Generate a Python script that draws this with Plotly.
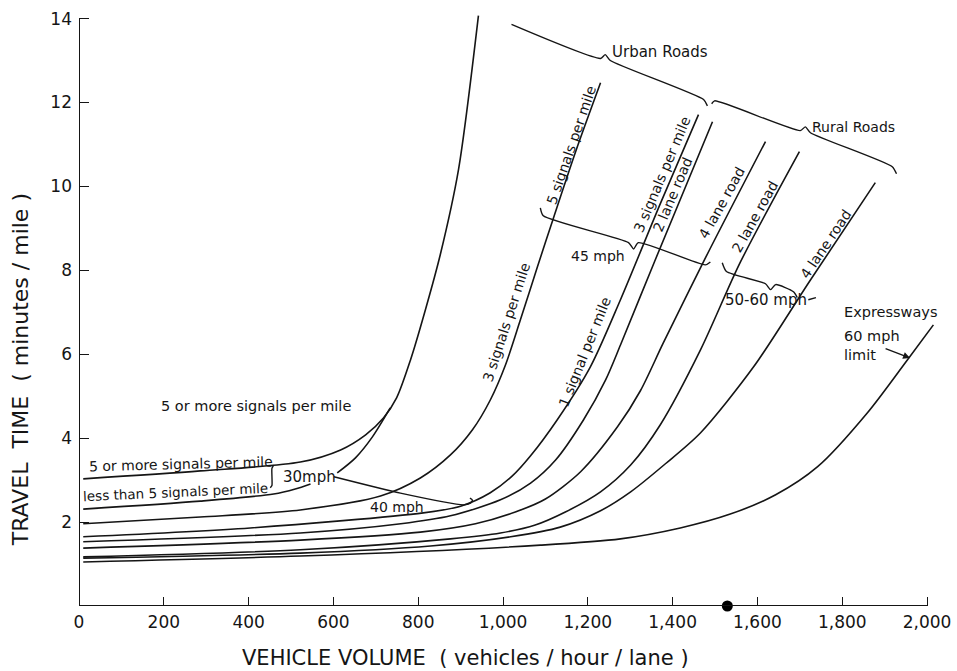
import plotly.graph_objects as go

# ---------------------------------------------------------------
# Travel time (minutes/mile) versus vehicle volume (veh/hour/lane)
# ---------------------------------------------------------------

x_ticks = [0, 200, 400, 600, 800, 1000, 1200, 1400, 1600, 1800, 2000]
x_tick_text = ["0", "200", "400", "600", "800", "1,000", "1,200",
               "1,400", "1,600", "1,800", "2,000"]
y_ticks = [2, 4, 6, 8, 10, 12, 14]
y_tick_text = ["2", "4", "6", "8", "10", "12", "14"]

# Urban, 30 mph, 5 or more signals per mile
urban30_5plus_x = [10, 286, 522, 617, 676, 718, 749, 782, 817, 852, 895, 942]
urban30_5plus_y = [3.03, 3.22, 3.43, 3.72, 4.08, 4.48, 4.96, 5.87, 7.06, 8.37, 10.40, 14.07]

# Urban, 30 mph, less than 5 signals per mile (broken where "30mph" sits)
urban30_lt5_x = [10, 286, 459, 510, 546, None, 609, 652, 692, 734]
urban30_lt5_y = [2.31, 2.50, 2.67, 2.79, 2.91, None, 3.17, 3.53, 4.03, 4.72]

# Urban 45 mph, 5 signals per mile
urban45_5sig_x = [10, 286, 522, 711, 805, 876, 928, 970, 1006, 1041, 1081, 1119, 1173, 1230]
urban45_5sig_y = [1.96, 2.12, 2.29, 2.62, 3.05, 3.60, 4.20, 4.91, 5.75, 6.82, 8.08, 9.25, 10.88, 12.47]

# Urban 45 mph, 3 signals per mile
urban45_3sig_x = [10, 404, 812, 900, 970, 1022, 1065, 1128, 1206, 1277, 1371, 1461]
urban45_3sig_y = [1.65, 1.86, 2.22, 2.38, 2.70, 3.10, 3.58, 4.44, 5.70, 7.30, 9.59, 11.71]

# Urban 2 lane road
urban_2lane_x = [10, 522, 759, 876, 994, 1065, 1124, 1190, 1242, 1277, 1357, 1494]
urban_2lane_y = [1.53, 1.74, 1.96, 2.15, 2.53, 2.93, 3.48, 4.44, 5.39, 6.22, 8.20, 11.54]

# Urban 4 lane road
urban_4lane_x = [10, 522, 805, 935, 1029, 1100, 1183, 1270, 1324, 1378, 1475, 1619]
urban_4lane_y = [1.38, 1.57, 1.76, 1.96, 2.24, 2.55, 3.20, 4.27, 5.13, 6.27, 8.25, 11.07]

# Rural 2 lane road
rural_2lane_x = [10, 522, 876, 994, 1076, 1147, 1230, 1301, 1371, 1466, 1560, 1699]
rural_2lane_y = [1.17, 1.34, 1.60, 1.74, 1.93, 2.24, 2.72, 3.36, 4.32, 6.11, 8.20, 10.83]

# Rural 4 lane road
rural_4lane_x = [10, 522, 829, 1018, 1135, 1230, 1301, 1383, 1466, 1591, 1725, 1878]
rural_4lane_y = [1.14, 1.26, 1.43, 1.65, 1.88, 2.27, 2.72, 3.39, 4.13, 5.70, 7.77, 10.09]

# Expressways, 60 mph limit
expressway_x = [10, 522, 1088, 1277, 1418, 1536, 1643, 1742, 1859, 1954, 2015]
expressway_y = [1.05, 1.19, 1.45, 1.60, 1.86, 2.19, 2.65, 3.32, 4.60, 5.87, 6.70]

curves = [
    (urban30_5plus_x, urban30_5plus_y),
    (urban30_lt5_x, urban30_lt5_y),
    (urban45_5sig_x, urban45_5sig_y),
    (urban45_3sig_x, urban45_3sig_y),
    (urban_2lane_x, urban_2lane_y),
    (urban_4lane_x, urban_4lane_y),
    (rural_2lane_x, rural_2lane_y),
    (rural_4lane_x, rural_4lane_y),
    (expressway_x, expressway_y),
]

# Group braces and connectors (drawn in data units)
brace_urban_x = [1020, 1230, 1241, 1253, 1473, 1482]
brace_urban_y = [13.86, 13.05, 13.14, 13.00, 12.07, 11.92]
brace_rural_x = [1492, 1499, 1701, 1713, 1725, 1918, 1928]
brace_rural_y = [11.97, 12.04, 11.33, 11.42, 11.28, 10.47, 10.30]
brace_45_x = [1088, 1095, 1296, 1308, 1319, 1477, 1489]
brace_45_y = [9.49, 9.30, 8.66, 8.51, 8.66, 8.13, 8.20]
brace_5060_x = [1517, 1527, 1619, 1631, 1643, 1685, 1694]
brace_5060_y = [8.18, 7.97, 7.68, 7.54, 7.66, 7.49, 7.35]
tie_5060_x = [1720, 1738]
tie_5060_y = [7.30, 7.35]
brace_30_x = [459, 455, 455, 451]
brace_30_y = [3.36, 3.28, 2.87, 2.82]
link_40_x = [601, 758, 907, 923, 928, 922]
link_40_y = [3.08, 2.69, 2.41, 2.45, 2.52, 2.57]

ink = "#151515"
font_family = "DejaVu Sans"

fig = go.Figure()

for cx, cy in curves:
    fig.add_trace(go.Scatter(
        x=cx, y=cy, mode="lines",
        line=dict(color=ink, width=1.6, shape="spline", smoothing=0.8),
        connectgaps=False, hoverinfo="skip", showlegend=False,
    ))

for bx, by in [(brace_urban_x, brace_urban_y), (brace_rural_x, brace_rural_y),
               (brace_45_x, brace_45_y), (brace_5060_x, brace_5060_y),
               (tie_5060_x, tie_5060_y), (brace_30_x, brace_30_y),
               (link_40_x, link_40_y)]:
    fig.add_trace(go.Scatter(
        x=bx, y=by, mode="lines",
        line=dict(color=ink, width=1.4, shape="spline", smoothing=0.6),
        hoverinfo="skip", showlegend=False,
    ))

# ink blot sitting on the volume axis
fig.add_trace(go.Scatter(
    x=[1529], y=[0], mode="markers",
    marker=dict(color="#000000", size=11, symbol="circle"),
    cliponaxis=False, hoverinfo="skip", showlegend=False,
))

# axis lines
fig.add_shape(type="line", x0=0, x1=2000, y0=0, y1=0,
              line=dict(color=ink, width=2), layer="above")
fig.add_shape(type="line", x0=0, x1=0, y0=0, y1=14,
              line=dict(color=ink, width=2), layer="above")

# curve labels: (text, x, y, angle, size)
labels = [
    ("5 or more signals per mile", 240, 3.39, -1.5, 14),
    ("less than 5 signals per mile", 227, 2.72, -2.6, 13.5),
    ("30mph", 543, 3.08, 0, 15),
    ("5 or more signals per mile", 418, 4.77, 0, 14.5),
    ("40 mph", 749, 2.36, 0, 14),
    ("3 signals per mile", 1008, 6.77, -72, 14),
    ("5 signals per mile", 1161, 10.99, -71, 14),
    ("1 signal per mile", 1192, 6.06, -68, 14),
    ("3 signals per mile", 1374, 10.28, -67, 14),
    ("2 lane road", 1399, 9.80, -67, 14),
    ("4 lane road", 1515, 9.61, -61, 14),
    ("2 lane road", 1593, 9.28, -61, 14),
    ("4 lane road", 1761, 8.63, -56, 14),
    ("45 mph", 1225, 8.33, 0, 14),
    ("50-60 mph", 1621, 7.30, 0, 15),
]
for text, lx, ly, ang, size in labels:
    fig.add_annotation(x=lx, y=ly, text=text, textangle=ang, showarrow=False,
                       xanchor="center", yanchor="middle",
                       font=dict(family=font_family, size=size, color=ink))

for text, lx, ly, size in [("Urban Roads", 1371, 13.21, 15),
                           ("Rural Roads", 1826, 11.42, 14),
                           ("Expressways", 1914, 7.01, 14.5)]:
    fig.add_annotation(x=lx, y=ly, text=text, showarrow=False,
                       xanchor="center", yanchor="middle",
                       font=dict(family=font_family, size=size, color=ink))

fig.add_annotation(x=1800, y=6.22, text="60 mph<br>limit", showarrow=False,
                   xanchor="left", yanchor="middle", align="left",
                   font=dict(family=font_family, size=14.5, color=ink))
fig.add_annotation(x=1960, y=5.91, text="", showarrow=True, ax=-26, ay=-10,
                   arrowhead=2, arrowsize=1, arrowwidth=1.4, arrowcolor=ink)

# axis titles
fig.add_annotation(xref="paper", yref="paper", x=0.4467, y=-0.087,
                   text="VEHICLE VOLUME  ( vehicles / hour / lane )",
                   showarrow=False, xanchor="center", yanchor="middle",
                   font=dict(family=font_family, size=21, color=ink))
fig.add_annotation(xref="paper", yref="paper", x=-0.0677, y=0.3936,
                   text="TRAVEL  TIME  ( minutes / mile )", textangle=-90,
                   showarrow=False, xanchor="center", yanchor="middle",
                   font=dict(family=font_family, size=22, color=ink))

fig.update_layout(
    width=957, height=671,
    margin=dict(l=78.6, r=13.4, t=6.4, b=65, autoexpand=False),
    paper_bgcolor="white", plot_bgcolor="white",
    showlegend=False,
    xaxis=dict(range=[0, 2040], tickvals=x_ticks, ticktext=x_tick_text,
               ticks="inside", ticklen=9, tickwidth=1.3, tickcolor=ink,
               showgrid=False, zeroline=False, showline=False,
               ticklabelstandoff=4,
               tickfont=dict(family=font_family, size=17, color=ink)),
    yaxis=dict(range=[0, 14.3], tickvals=y_ticks, ticktext=y_tick_text,
               ticks="inside", ticklen=10, tickwidth=1.3, tickcolor=ink,
               showgrid=False, zeroline=False, showline=False,
               ticklabelstandoff=6,
               tickfont=dict(family=font_family, size=17, color=ink)),
)

fig.write_html("out.html")
